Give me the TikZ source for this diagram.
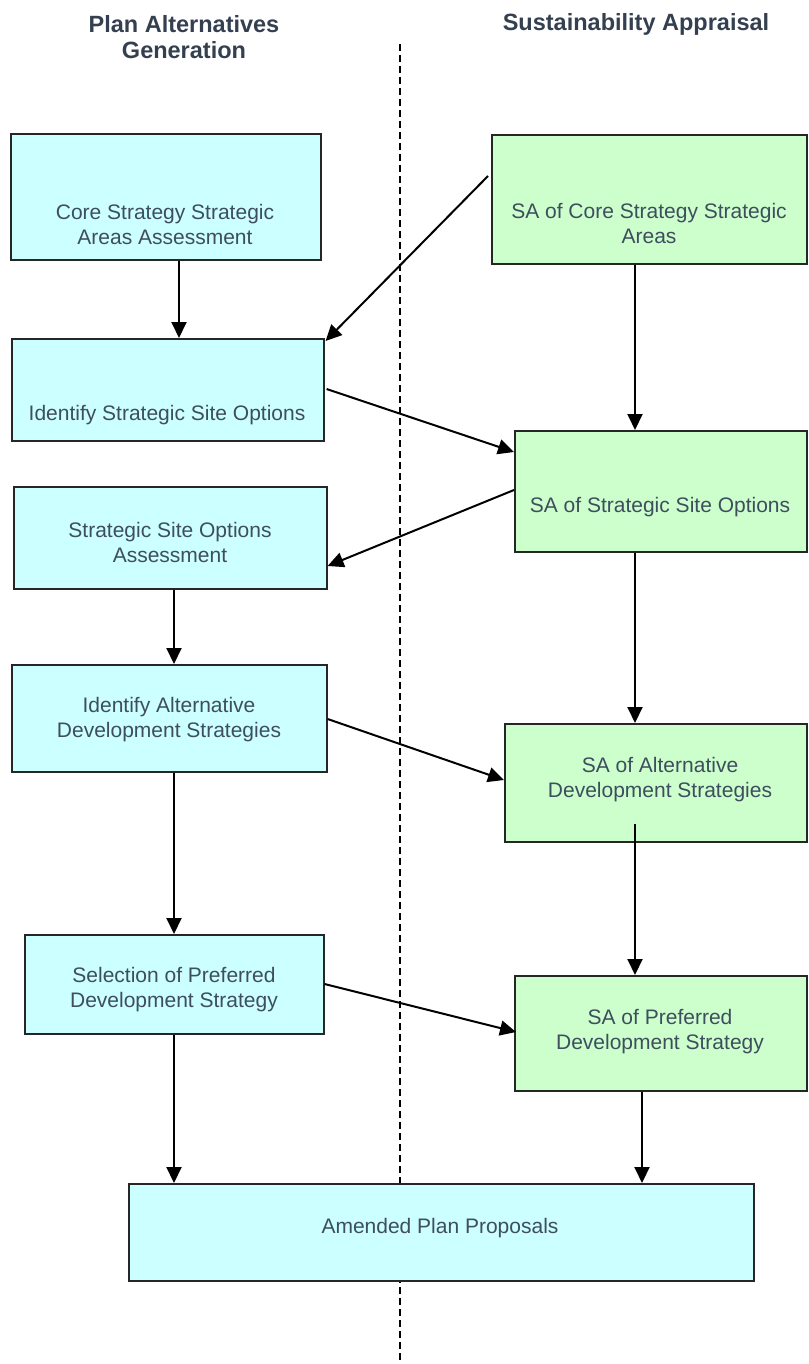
\documentclass[tikz,border=0pt]{standalone}
\usepackage{fontspec}
\setmainfont{Liberation Sans}
\usetikzlibrary{arrows.meta,calc}
\definecolor{cyanbox}{RGB}{204,255,255}
\definecolor{greenbox}{RGB}{204,255,204}
\definecolor{txtcol}{RGB}{62,78,94}
\definecolor{ttlcol}{RGB}{52,64,80}
\begin{document}
\begin{tikzpicture}[x=1pt,y=-1pt,
  cbox/.style={draw=black!85, line width=1.6pt, fill=cyanbox, anchor=north west, inner sep=0pt},
  gbox/.style={cbox, fill=greenbox},
  txt/.style={text=txtcol, font=\fontsize{21}{25}\selectfont, align=center, inner sep=0pt},
  ttl/.style={text=ttlcol, font=\fontsize{23.5}{26.5}\selectfont\bfseries, align=center, inner sep=0pt},
  arr/.style={line width=2pt, -{Triangle[length=16pt,width=15pt]}},
  sep/.style={line width=1.5pt, dash pattern=on 7pt off 4pt}]
\useasboundingbox (0,0) rectangle (808,1364);
\fill[white] (0,0) rectangle (808,1364);
% titles
\node[ttl] (t1) at (184,37) {Plan Alternatives\\Generation};
\node[ttl] (t2) at (636,24) {Sustainability Appraisal};
% separator
\coordinate (dtop) at (400,44);
\coordinate (dbot) at (400,1362);
\draw[sep] (dtop) -- (dbot);
% left column boxes
\node[cbox, minimum width=310pt, minimum height=126pt] (b1) at (10,133) {};
\node[cbox, minimum width=312pt, minimum height=102pt] (b2) at (11,338) {};
\node[cbox, minimum width=313pt, minimum height=102pt] (b3) at (13,486) {};
\node[cbox, minimum width=315pt, minimum height=107pt] (b4) at (11,664) {};
\node[cbox, minimum width=299pt, minimum height=99pt] (b5) at (24,934) {};
\node[cbox, minimum width=625pt, minimum height=97pt] (am) at (128,1183) {};
% right column boxes
\node[gbox, minimum width=315pt, minimum height=129pt] (s1) at (491,134) {};
\node[gbox, minimum width=292pt, minimum height=121pt] (s2) at (514,430) {};
\node[gbox, minimum width=302pt, minimum height=118pt] (s3) at (504,723) {};
\node[gbox, minimum width=292pt, minimum height=115pt] (s4) at (514,975) {};
% texts
\node[txt] (b1t) at (165,224) {Core Strategy Strategic\\Areas Assessment};
\node[txt] (b2t) at (167,415) {Identify Strategic Site Options};
\node[txt] (b3t) at (170,542) {Strategic Site Options\\Assessment};
\node[txt] (b4t) at (169,720) {Identify Alternative\\Development Strategies};
\node[txt] (b5t) at (174,990) {Selection of Preferred\\Development Strategy};
\node[txt] (amt) at (440,1228) {Amended Plan Proposals};
\node[txt] (s1t) at (649,223) {SA of Core Strategy Strategic\\Areas};
\node[txt] (s2t) at (660,507) {SA of Strategic Site Options};
\node[txt] (s3t) at (660,780) {SA of Alternative\\Development Strategies};
\node[txt] (s4t) at (660,1032) {SA of Preferred\\Development Strategy};
% connectors
\coordinate (c1) at (488,176);
\draw[arr] ($(b1.south west)+(169,0)$) -- ($(b2.north west)+(168,0)$);
\draw[arr] (c1) -- ($(b2.north east)+(1,3)$);
\draw[arr] ($(b2.north east)+(2,51)$) -- ($(s2.north west)+(0,22)$);
\draw[arr] ($(s1.south west)+(144,0)$) -- ($(s2.north west)+(121,0)$);
\draw[arr] ($(s2.north west)+(0,60)$) -- ($(b3.north east)+(0,80)$);
\draw[arr] ($(b3.south west)+(161,0)$) -- ($(b4.north west)+(163,0)$);
\draw[arr] ($(s2.south west)+(121,0)$) -- ($(s3.north west)+(131,0)$);
\draw[arr] ($(b4.north east)+(0,55)$) -- ($(s3.north west)+(0,57)$);
\draw[arr] ($(b4.south west)+(163,0)$) -- ($(b5.north west)+(150,0)$);
\draw[arr] ($(s3.south west)+(131,-19)$) -- ($(s4.north west)+(121,0)$);
\draw[arr] ($(b5.north east)+(0,50)$) -- ($(s4.north west)+(2,57)$);
\draw[arr] ($(b5.south west)+(150,0)$) -- ($(am.north west)+(46,0)$);
\draw[arr] ($(s4.south west)+(128,0)$) -- ($(am.north west)+(514,0)$);
\end{tikzpicture}
\end{document}
